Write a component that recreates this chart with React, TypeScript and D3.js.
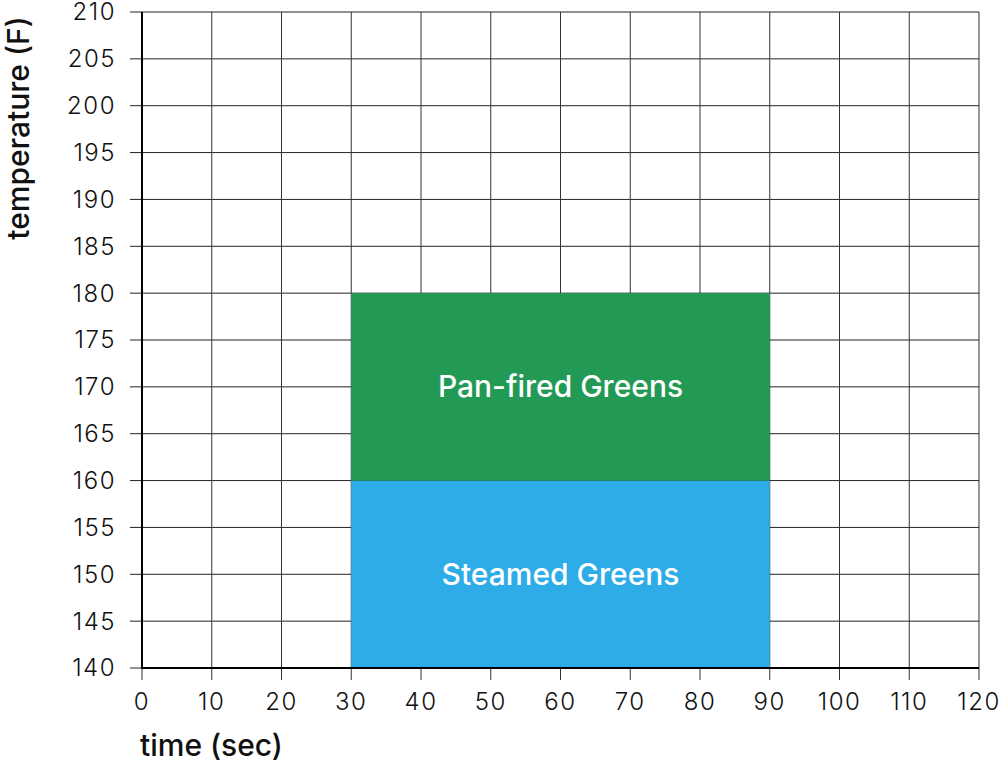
import React from 'react';
import * as d3 from 'd3';

// categories and values
const xTicks = [0, 10, 20, 30, 40, 50, 60, 70, 80, 90, 100, 110, 120];
const yTicks = [140, 145, 150, 155, 160, 165, 170, 175, 180, 185, 190, 195, 200, 205, 210];
const zoneNames = ['Steamed Greens', 'Pan-fired Greens'];
const zoneTimeStart = [30, 30];
const zoneTimeEnd = [90, 90];
const zoneTempLow = [140, 160];
const zoneTempHigh = [160, 180];
const zoneColors = ['#2EACE8', '#229A56'];

const font = 'Inter, "Open Sans", sans-serif';

export default function App() {
    const width = 1004, height = 766;
    const margin = { top: 12, right: 25, bottom: 98, left: 142 };

    const x = d3.scaleLinear().domain([0, 120]).range([margin.left, width - margin.right]);
    const y = d3.scaleLinear().domain([140, 210]).range([height - margin.bottom, margin.top]);

    const [x0, x1] = x.range();
    const [yBottom, yTop] = y.range();

    return (
        <svg width={width} height={height} style={{ position: 'absolute', left: 0, top: 0 }}>
            <rect width={width} height={height} fill="#fff" />

            {/* grid */}
            {yTicks.map((t) => (
                <line key={'gy' + t} x1={x0 - 12} x2={x1} y1={y(t)} y2={y(t)} stroke="#222" strokeWidth={1} />
            ))}
            {xTicks.map((t) => (
                <line key={'gx' + t} x1={x(t)} x2={x(t)} y1={yTop} y2={yBottom + 12} stroke="#333" strokeWidth={1} />
            ))}

            {/* zones sit over the grid */}
            {zoneNames.map((name, i) => (
                <rect key={'c' + name} x={x(zoneTimeStart[i])} y={y(zoneTempHigh[i])}
                    width={x(zoneTimeEnd[i]) - x(zoneTimeStart[i])}
                    height={y(zoneTempLow[i]) - y(zoneTempHigh[i])}
                    fill={zoneColors[i]} />
            ))}
            {zoneNames.map((name, i) => (
                <text key={'t' + name} x={(x(zoneTimeStart[i]) + x(zoneTimeEnd[i])) / 2}
                    y={y((zoneTempLow[i] + zoneTempHigh[i]) / 2)} dy="0.35em"
                    textAnchor="middle" fill="#fff" fontFamily={font} fontSize={30} fontWeight={500}>
                    {name}
                </text>
            ))}

            {/* axes */}
            <line x1={x0} x2={x0} y1={yTop} y2={yBottom + 1} stroke="#000" strokeWidth={2} />
            <line x1={x0 - 1} x2={x1} y1={yBottom} y2={yBottom} stroke="#000" strokeWidth={2} />

            {yTicks.map((t) => (
                <text key={'ly' + t} x={116} y={y(t)} dy="0.35em" textAnchor="end"
                    fontFamily={font} fontSize={24} fontWeight={300} letterSpacing={1.5} fill="#111">{t}</text>
            ))}
            {xTicks.map((t) => (
                <text key={'lx' + t} x={x(t)} y={710} textAnchor="middle"
                    fontFamily={font} fontSize={24} fontWeight={300} letterSpacing={1.5} fill="#111">{t}</text>
            ))}

            <text x={140} y={756} fontFamily={font} fontSize={30} fontWeight={500} fill="#111">time (sec)</text>
            <text transform={`translate(29,${128}) rotate(-90)`} textAnchor="middle"
                fontFamily={font} fontSize={30} fontWeight={500} fill="#111">temperature (F)</text>
        </svg>
    );
}
